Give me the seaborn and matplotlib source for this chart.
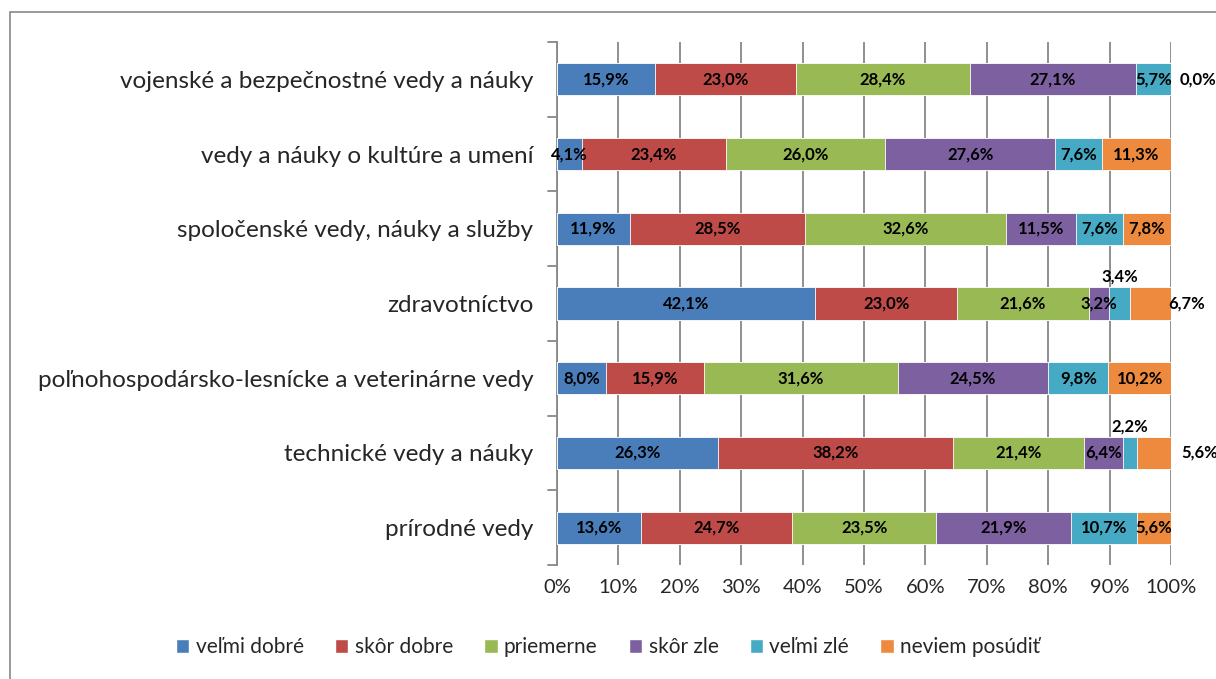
import numpy as np
import pandas as pd
import matplotlib.pyplot as plt
import seaborn as sns
from matplotlib.patches import Rectangle, Patch

categories = ["vojenské a bezpečnostné vedy a náuky",
              "vedy a náuky o kultúre a umení",
              "spoločenské vedy, náuky a služby",
              "zdravotníctvo",
              "poľnohospodársko-lesnícke a veterinárne vedy",
              "technické vedy a náuky",
              "prírodné vedy"]
series = ["veľmi dobré", "skôr dobre", "priemerne", "skôr zle", "veľmi zlé", "neviem posúdiť"]
velmi_dobre = [15.9, 4.1, 11.9, 42.1, 8.0, 26.3, 13.6]
skor_dobre = [23.0, 23.4, 28.5, 23.0, 15.9, 38.2, 24.7]
priemerne = [28.4, 26.0, 32.6, 21.6, 31.6, 21.4, 23.5]
skor_zle = [27.1, 27.6, 11.5, 3.2, 24.5, 6.4, 21.9]
velmi_zle = [5.7, 7.6, 7.6, 3.4, 9.8, 2.2, 10.7]
neviem = [0.0, 11.3, 7.8, 6.7, 10.2, 5.6, 5.6]
colors = ["#4A7EBB", "#BE4B48", "#98B954", "#7D60A0", "#46AAC5", "#EE8A3E"]

vals = np.array([velmi_dobre, skor_dobre, priemerne, skor_zle, velmi_zle, neviem])
pct = vals / vals.sum(axis=0) * 100
cum = np.cumsum(pct, axis=0)

sns.set_style("white")
plt.rcParams['font.family'] = ['Lato', 'DejaVu Sans']

fig = plt.figure(figsize=(12.16, 6.79), dpi=100)
ax = fig.add_axes([557/1216, 1 - 565/679, (1171 - 557)/1216, (565 - 42)/679])

# stacked by drawing cumulative totals from the last series down
for i in range(len(series) - 1, -1, -1):
    df = pd.DataFrame({"cat": categories, "val": cum[i]})
    sns.barplot(data=df, x="val", y="cat", orient="h", color=colors[i],
                width=0.43, saturation=1, edgecolor="white", linewidth=0.6,
                ax=ax, zorder=3)

ax.set_xlim(0, 100)
ax.set_ylim(len(categories) - 0.5, -0.5)
ax.set_xticks(np.arange(0, 101, 10))
ax.set_xticklabels([f"{t}%" for t in range(0, 101, 10)], fontsize=14.5)
ax.xaxis.grid(True, color="#878787", linewidth=1.3, zorder=0)
ax.set_axisbelow(True)
ax.set_xlabel("")
ax.set_ylabel("")
ax.tick_params(axis="x", length=0, pad=10)
ax.set_yticks(range(len(categories)))
ax.set_yticklabels(categories, fontsize=17.5)
ax.tick_params(axis="y", length=0, pad=17)
for b in np.arange(-0.5, len(categories), 1):
    ax.plot([-1.5, 0], [b, b], color="#878787", lw=1.3, clip_on=False)
for s in ["top", "right", "bottom"]:
    ax.spines[s].set_visible(False)
ax.spines["left"].set_color("#878787")
ax.spines["left"].set_linewidth(1.3)

# data labels
special = {(0, 5): (104.4, 0), (3, 4): (None, -0.36), (3, 5): (102.6, 0),
           (5, 4): (None, -0.36), (5, 3): (None, 0), (5, 5): (104.6, 0)}
for j in range(len(categories)):
    for i in range(len(series)):
        x = cum[i, j] - pct[i, j] / 2
        dy = 0
        if (j, i) in special:
            sx, dy = special[(j, i)]
            if sx is not None:
                x = sx
        txt = f"{vals[i, j]:.1f}%".replace(".", ",")
        ax.text(x, j + dy, txt, ha="center", va="center", fontsize=12,
                fontweight="bold", color="black", zorder=5, clip_on=False)

handles = [Patch(facecolor=c, label=s) for c, s in zip(colors, series)]
fig.legend(handles=handles, loc="center", bbox_to_anchor=(0.5, 1 - 647/679),
           ncol=6, frameon=False, fontsize=15, handlelength=0.65,
           handleheight=0.65, handletextpad=0.3, columnspacing=1.5)

fig.patches.append(Rectangle((10/1216, -0.05), 1.2, 1 - 12/679 + 0.05,
                             transform=fig.transFigure, fill=False,
                             edgecolor="#878787", linewidth=1.2))

fig.savefig("out.png", dpi=100)
